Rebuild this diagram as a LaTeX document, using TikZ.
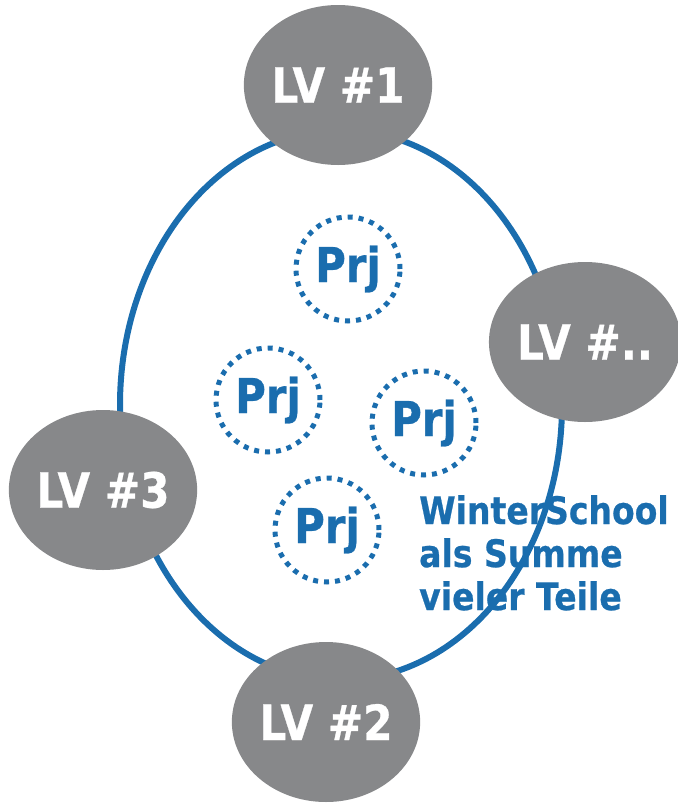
\documentclass[tikz,border=0pt]{standalone}
\usepackage{fontspec}
\setmainfont{DejaVu Sans}
\newfontfamily\lvfont[FakeStretch=0.87,FakeBold=0.6]{DejaVu Sans Bold}
\usetikzlibrary{shapes.geometric}
\definecolor{lvgrey}{HTML}{87888A}
\definecolor{wsblue}{HTML}{1A6DAE}
\tikzset{
  lvnode/.style={ellipse, fill=lvgrey, draw=none, minimum width=184pt, minimum height=160pt, inner sep=0pt, text=white, font=\lvfont\fontsize{48.5}{50}\selectfont},
  prjnode/.style={circle, draw=wsblue, line width=5pt, dash pattern=on 5pt off 6pt, minimum size=104pt, inner sep=0pt, text=wsblue, font=\lvfont\fontsize{48}{50}\selectfont},
  ringnode/.style={ellipse, draw=wsblue, line width=6pt, minimum width=442pt, minimum height=550pt, inner sep=0pt},
}
\begin{document}
\begin{tikzpicture}[x=1pt,y=-1pt]
\useasboundingbox (0,0) rectangle (678,804);
\node[ringnode] (ring) at (341,405) {};
\node[lvnode] (lv1) at (338,85) {LV \#1};
\node[lvnode] (lvx) at (585,342) {LV \#..};
\node[lvnode] (lv3) at (103,490) {LV \#3};
\node[lvnode] (lv2) at (326,722) {LV \#2};
\node[prjnode] (p1) at (348,269) {Prj};
\node[prjnode] (p2) at (268,400) {Prj};
\node[prjnode] (p3) at (424,423) {Prj};
\node[prjnode] (p4) at (327,530) {Prj};
\node[anchor=north west, inner sep=0pt, align=left, text=wsblue, font=\lvfont\fontsize{38}{43}\selectfont] (label) at (419,495) {WinterSchool\\als Summe\\vieler Teile};
\end{tikzpicture}
\end{document}
